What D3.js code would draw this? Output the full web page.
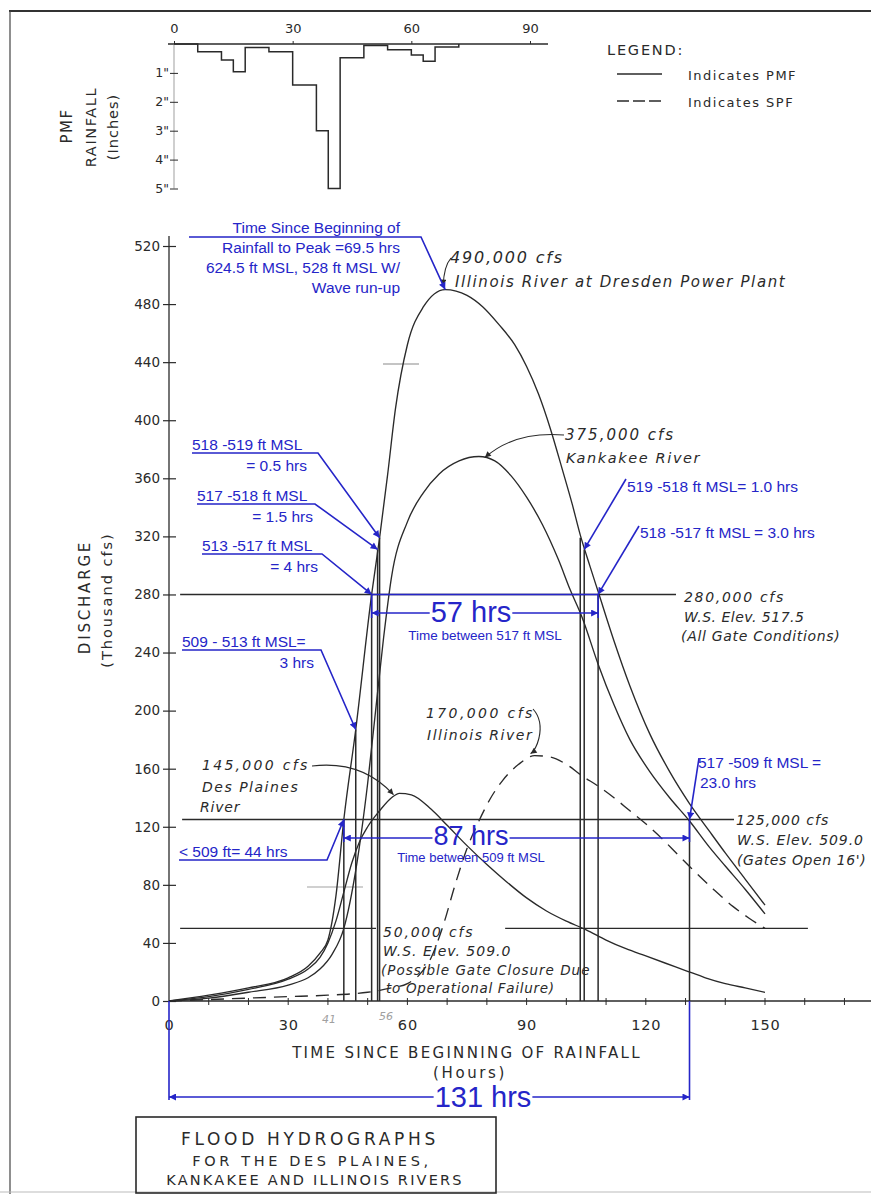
<!DOCTYPE html>
<html lang="en">
<head>
<meta charset="utf-8">
<title>Flood hydrographs for the Des Plaines, Kankakee and Illinois Rivers</title>
<script src="https://cdn.jsdelivr.net/npm/d3@7"></script>
<style>
  body { margin: 0; background: #fff; }
  svg { display: block; }
</style>
</head>
<body>
<script>
// ---- data ----
// PMF rainfall hyetograph (inches per interval, step starts at hour)
var rainHours  = [0, 6, 12, 15, 18, 24, 30, 36, 39, 42, 48, 54, 60, 63, 66, 72];
var rainInches = [0, 0.27, 0.55, 0.96, 0.12, 0.27, 1.42, 3.0, 5.0, 0.48, 0.05, 0.2, 0.38, 0.6, 0.1, 0];

// discharge, thousand cfs
var illinoisPmfT = [0, 10, 20, 30, 35, 38, 40, 42, 44, 47, 51, 53, 55, 57, 60, 64, 69.5, 75, 79, 83, 87, 90, 93, 96, 99, 101.5, 103.5, 106, 108, 112, 116, 121, 126, 131, 136, 140, 145, 150];
var illinoisPmfQ = [0, 4, 9, 16, 24, 33, 42, 72, 125, 187, 280, 319, 362, 408, 452, 478, 490, 486, 478, 466, 452, 437, 418, 394, 366, 342, 321, 299, 282, 248, 217, 184, 158, 136, 117, 102, 84, 66];

var kankakeePmfT = [0, 10, 20, 30, 35, 38, 41, 44, 47, 50, 52, 54, 56, 60, 64, 68, 73, 78, 82, 86, 90, 94, 98, 101, 104, 108, 112, 116, 121, 126, 131, 136, 140, 145, 150];
var kankakeePmfQ = [0, 2, 6, 11, 16, 22, 32, 50, 90, 150, 200, 250, 292, 330, 350, 363, 372, 375, 372, 362, 347, 328, 304, 283, 264, 232, 204, 180, 158, 140, 124, 106, 93, 77, 60];

var desPlainesPmfT = [0, 10, 20, 30, 35, 38, 40, 42, 44, 46, 48, 50, 53, 56, 58, 61, 66, 70, 75, 80, 85, 90, 95, 100, 105, 110, 115, 120, 125, 130, 135, 140, 145, 150];
var desPlainesPmfQ = [0, 3, 8, 15, 22, 30, 40, 55, 75, 95, 110, 120, 131, 140, 143, 142, 132, 121, 107, 94, 82, 71, 62, 55, 49, 42, 36, 31, 26, 21, 16, 12, 9, 6];

var illinoisSpfT = [0, 10, 20, 30, 40, 50, 56, 60, 63, 66, 69, 72, 75, 78, 81, 84, 88, 92, 96, 100, 104, 108, 112, 116, 120, 124, 128, 132, 137, 142, 146, 150];
var illinoisSpfQ = [0, 1, 2, 3, 4, 6, 9, 12, 18, 30, 52, 80, 105, 124, 140, 152, 163, 169, 168, 163, 155, 148, 140, 131, 122, 112, 101, 90, 77, 65, 57, 50];

// marked crossing times (hours) and the discharge where each mark stops
var gateHours = [44, 47, 51, 52.5, 53, 103.5, 104.5, 108, 131];
var gateTopQ  = [125, 187, 280, 311, 319, 319, 311, 280, 125];

// water surface reference levels, thousand cfs
var levelQ = [280, 125, 50];

var dischargeTicks = [0, 40, 80, 120, 160, 200, 240, 280, 320, 360, 400, 440, 480, 520];
var timeTicks = [0, 30, 60, 90, 120, 150];
var rainTimeTicks = [0, 30, 60, 90];
var rainTicks = [1, 2, 3, 4, 5];

// ---- drawing ----
var W = 871, H = 1194;
var ink = "#2a2a2a", blue = "#2525c8";
var narrow = "'Liberation Sans Narrow', 'Arial Narrow', 'Liberation Sans', Arial, sans-serif";
var lettering = "'DejaVu Sans', sans-serif";

var svg = d3.select("body").append("svg").attr("width", W).attr("height", H);

var defs = svg.append("defs");
function marker(id, color, len, wid) {
  defs.append("marker").attr("id", id)
    .attr("viewBox", "0 0 10 10").attr("refX", 10).attr("refY", 5)
    .attr("markerUnits", "userSpaceOnUse")
    .attr("markerWidth", len).attr("markerHeight", wid)
    .attr("orient", "auto-start-reverse")
    .append("path").attr("d", "M0,0L10,5L0,10Z").attr("fill", color);
}
marker("ab", blue, 11, 7);
marker("ak", ink, 8, 6);

function label(s, px, py, o) {
  o = o || {};
  var t = svg.append("text").attr("x", px).attr("y", py).text(s)
    .attr("font-family", o.family || lettering)
    .attr("font-size", o.size || 14)
    .attr("fill", o.color || ink);
  if (o.italic) t.attr("font-style", "italic");
  if (o.ls) t.attr("letter-spacing", o.ls);
  if (o.anchor) t.attr("text-anchor", o.anchor);
  if (o.rotate) t.attr("transform", "rotate(-90," + px + "," + py + ")");
  return t;
}
function bl(s, px, py, o) {
  o = o || {};
  o.family = narrow; o.color = blue; o.size = o.size || 15.5;
  return label(s, px, py, o);
}

// page frame
svg.append("line").attr("x1", 9).attr("x2", W).attr("y1", 11).attr("y2", 11)
  .attr("stroke", "#333").attr("stroke-width", 2);
svg.append("line").attr("x1", 10).attr("x2", 10).attr("y1", 11).attr("y2", H)
  .attr("stroke", "#444").attr("stroke-width", 1.2);
svg.append("line").attr("x1", 0).attr("x2", W).attr("y1", 1192).attr("y2", 1192)
  .attr("stroke", "#bbb").attr("stroke-width", 1);

// ---- rainfall hyetograph ----
var hx = d3.scaleLinear().domain([0, 90]).range([174, 530]);
var hy = d3.scaleLinear().domain([0, 5]).range([44, 188.5]);

svg.append("line").attr("x1", 168).attr("x2", 548).attr("y1", hy(0)).attr("y2", hy(0))
  .attr("stroke", ink).attr("stroke-width", 1.6);
svg.append("line").attr("x1", hx(0)).attr("x2", hx(0)).attr("y1", hy(0)).attr("y2", hy(5))
  .attr("stroke", "#777").attr("stroke-width", 0.7);

var hTop = svg.append("g").attr("transform", "translate(0," + hy(0) + ")")
  .call(d3.axisTop(hx).tickValues(rainTimeTicks).tickSize(3).tickPadding(8).tickSizeOuter(0));
hTop.select(".domain").remove();
hTop.selectAll("text").attr("font-family", lettering).attr("font-size", 13).attr("fill", ink);
hTop.selectAll("line").attr("stroke", ink);

var hLeft = svg.append("g").attr("transform", "translate(" + hx(0) + ",0)")
  .call(d3.axisLeft(hy).tickValues(rainTicks).tickFormat(function (d) { return d + '"'; })
    .tickSize(4).tickPadding(1).tickSizeOuter(0));
hLeft.select(".domain").remove();
hLeft.selectAll(".tick line").attr("x1", -4).attr("x2", 4).attr("stroke", ink);
hLeft.selectAll("text").attr("font-family", lettering).attr("font-size", 12.5).attr("fill", ink);

var rain = rainHours.map(function (h, i) { return [h, rainInches[i]]; });
svg.append("path").datum(rain)
  .attr("d", d3.line().x(function (d) { return hx(d[0]); }).y(function (d) { return hy(d[1]); })
    .curve(d3.curveStepAfter))
  .attr("fill", "none").attr("stroke", ink).attr("stroke-width", 1.5);

label("PMF", 72, 126, { rotate: true, anchor: "middle", size: 15, ls: 1.5 });
label("RAINFALL", 96, 127, { rotate: true, anchor: "middle", size: 14.5, ls: 1.6 });
label("(Inches)", 118, 127, { rotate: true, anchor: "middle", size: 14.5, ls: 1 });

// legend
label("LEGEND:", 607, 55, { size: 14.5, ls: 1.8 });
svg.append("line").attr("x1", 617).attr("x2", 662).attr("y1", 74).attr("y2", 74)
  .attr("stroke", ink).attr("stroke-width", 1.4);
svg.append("line").attr("x1", 617).attr("x2", 662).attr("y1", 101).attr("y2", 101)
  .attr("stroke", ink).attr("stroke-width", 1.4).attr("stroke-dasharray", "12,4");
label("Indicates   PMF", 688, 80, { size: 13, ls: 1.5 });
label("Indicates   SPF", 688, 107, { size: 13, ls: 1.5 });

// ---- hydrograph ----
var x = d3.scaleLinear().domain([0, 150]).range([169, 765]);
var y = d3.scaleLinear().domain([0, 520]).range([1001, 246]);

// y axis
svg.append("line").attr("x1", x(0)).attr("x2", x(0)).attr("y1", 236).attr("y2", y(0))
  .attr("stroke", ink).attr("stroke-width", 1.3);
var yAx = svg.append("g").attr("transform", "translate(" + x(0) + ",0)")
  .call(d3.axisLeft(y).tickValues(dischargeTicks).tickSize(6).tickPadding(3).tickSizeOuter(0));
yAx.select(".domain").remove();
yAx.selectAll(".tick line").attr("x1", -6).attr("x2", 7).attr("stroke", ink).attr("stroke-width", 1.2);
yAx.selectAll("text").attr("font-family", lettering).attr("font-size", 13.5).attr("fill", ink);

// x axis
svg.append("line").attr("x1", x(0)).attr("x2", W).attr("y1", y(0)).attr("y2", y(0))
  .attr("stroke", ink).attr("stroke-width", 1.6);
var minor = d3.range(10, 171, 10);
svg.append("g").selectAll("line").data(minor).join("line")
  .attr("x1", function (d) { return x(d); }).attr("x2", function (d) { return x(d); })
  .attr("y1", y(0) - 3).attr("y2", y(0) + 4).attr("stroke", ink).attr("stroke-width", 1);
var xAx = svg.append("g").attr("transform", "translate(0," + y(0) + ")")
  .call(d3.axisBottom(x).tickValues(timeTicks).tickSize(0).tickPadding(19));
xAx.select(".domain").remove();
xAx.selectAll("text").attr("font-family", lettering).attr("font-size", 14.5).attr("fill", ink)
  .attr("letter-spacing", 0.8);

label("TIME  SINCE  BEGINNING  OF  RAINFALL", 467, 1058, { anchor: "middle", size: 15, ls: 2.3 });
label("(Hours)", 470, 1078, { anchor: "middle", size: 15, ls: 2.6 });
label("DISCHARGE", 90, 597, { rotate: true, anchor: "middle", size: 15, ls: 2.8 });
label("(Thousand cfs)", 112, 600, { rotate: true, anchor: "middle", size: 14.5, ls: 2 });

// pencil marks under the axis
label("41", 322, 1023, { size: 11, color: "#a0a0a0", italic: true });
label("56", 379, 1020, { size: 11, color: "#a0a0a0", italic: true });
svg.append("line").attr("x1", 383).attr("x2", 419).attr("y1", 364).attr("y2", 364)
  .attr("stroke", "#c4c4c4").attr("stroke-width", 2);
svg.append("line").attr("x1", 307).attr("x2", 363).attr("y1", 887).attr("y2", 887)
  .attr("stroke", "#d0d0d0").attr("stroke-width", 2);

// reference levels
var levelSpans = [[[2.8, 127.6]], [[3.3, 142.2]], [[2.8, 52.1], [84.6, 160.8]]];
levelQ.forEach(function (q, i) {
  levelSpans[i].forEach(function (s) {
    svg.append("line").attr("x1", x(s[0])).attr("x2", x(s[1]))
      .attr("y1", y(q)).attr("y2", y(q))
      .attr("stroke", ink).attr("stroke-width", 1.4);
  });
});

// hydrograph curves
var line = d3.line().x(function (d) { return x(d[0]); }).y(function (d) { return y(d[1]); })
  .curve(d3.curveMonotoneX);
function pts(t, q) { return t.map(function (v, i) { return [v, q[i]]; }); }
var series = [
  { t: illinoisPmfT, q: illinoisPmfQ, dash: null },
  { t: kankakeePmfT, q: kankakeePmfQ, dash: null },
  { t: desPlainesPmfT, q: desPlainesPmfQ, dash: null },
  { t: illinoisSpfT, q: illinoisSpfQ, dash: "13,8" }
];
series.forEach(function (s) {
  svg.append("path").datum(pts(s.t, s.q)).attr("d", line)
    .attr("fill", "none").attr("stroke", ink).attr("stroke-width", 1.35)
    .attr("stroke-dasharray", s.dash);
});

// crossing marks
svg.append("g").selectAll("line").data(gateHours).join("line")
  .attr("x1", function (d) { return x(d); }).attr("x2", function (d) { return x(d); })
  .attr("y1", function (d, i) { return y(gateTopQ[i]); }).attr("y2", y(0))
  .attr("stroke", ink).attr("stroke-width", 1.5);

// black notes
label("490,000 cfs", 450, 263, { italic: true, size: 16, ls: 1.8 });
label("Illinois  River  at  Dresden  Power  Plant", 455, 287, { italic: true, size: 15, ls: 1.6 });
svg.append("path").attr("d", "M451,258 Q444,266 " + x(69) + "," + (y(490) - 4))
  .attr("fill", "none").attr("stroke", ink).attr("stroke-width", 1.1).attr("marker-end", "url(#ak)");

label("375,000 cfs", 565, 440, { italic: true, size: 15, ls: 2 });
label("Kankakee  River", 566, 463, { italic: true, size: 14.5, ls: 1.6 });
svg.append("path").attr("d", "M564,435 Q515,431 " + (x(79) + 2) + "," + (y(375) + 1))
  .attr("fill", "none").attr("stroke", ink).attr("stroke-width", 1.1).attr("marker-end", "url(#ak)");

label("280,000 cfs", 684, 602, { italic: true, size: 14, ls: 1.7 });
label("W.S. Elev. 517.5", 684, 622, { italic: true, size: 14, ls: 0.5 });
label("(All Gate Conditions)", 681, 641, { italic: true, size: 14, ls: 0.7 });

label("170,000 cfs", 426, 718, { italic: true, size: 14, ls: 2.4 });
label("Illinois  River", 427, 740, { italic: true, size: 14, ls: 1.5 });
svg.append("path").attr("d", "M533,709 Q543,720 539,738 Q536,750 " + x(91) + "," + (y(169) - 2))
  .attr("fill", "none").attr("stroke", ink).attr("stroke-width", 1.1).attr("marker-end", "url(#ak)");

label("145,000 cfs", 202, 770, { italic: true, size: 14, ls: 2.3 });
label("Des  Plaines", 202, 792, { italic: true, size: 14, ls: 1.5 });
label("River", 200, 812, { italic: true, size: 14, ls: 0.8 });
svg.append("path").attr("d", "M312,766 Q362,760 " + (x(56) + 2) + "," + (y(140) - 3))
  .attr("fill", "none").attr("stroke", ink).attr("stroke-width", 1.1).attr("marker-end", "url(#ak)");

label("125,000 cfs", 736, 825, { italic: true, size: 14, ls: 1 });
label("W.S. Elev. 509.0", 737, 845, { italic: true, size: 14, ls: 0.9 });
label("(Gates Open 16')", 737, 865, { italic: true, size: 14, ls: 0.6 });

label("50,000 cfs", 383, 937, { italic: true, size: 14, ls: 1.8 });
label("W.S. Elev. 509.0", 383, 956, { italic: true, size: 14, ls: 1 });
label("(Possible  Gate  Closure  Due", 381, 975, { italic: true, size: 13.5, ls: 1 });
label("to  Operational  Failure)", 386, 993, { italic: true, size: 13.5, ls: 0.7 });

// ---- blue annotations ----
function leader(d) {
  svg.append("path").attr("d", d).attr("fill", "none").attr("stroke", blue)
    .attr("stroke-width", 1.6).attr("marker-end", "url(#ab)");
}
function pt(t, q) { return x(t) + "," + y(q); }

bl("Time Since Beginning of", 400, 233, { anchor: "end" });
bl("Rainfall to Peak =69.5 hrs", 400, 253, { anchor: "end" });
bl("624.5 ft MSL,  528 ft MSL W/", 400, 273, { anchor: "end" });
bl("Wave run-up", 400, 293, { anchor: "end" });
leader("M189,237H421L" + pt(69.5, 490));

bl("518 -519 ft MSL", 192, 450);
bl("= 0.5 hrs", 307, 471, { anchor: "end" });
leader("M192,453H318L" + pt(53, 319));

bl("517 -518 ft MSL", 197, 501);
bl("= 1.5 hrs", 313, 522, { anchor: "end" });
leader("M197,504H315L" + pt(52.5, 311));

bl("513 -517 ft MSL", 202, 551);
bl("= 4 hrs", 318, 572, { anchor: "end" });
leader("M202,554H322L" + pt(51, 280));

bl("509 - 513 ft MSL=", 182, 647);
bl("3 hrs", 314, 668, { anchor: "end" });
leader("M182,650H321L" + pt(47, 187));

bl("< 509 ft= 44 hrs", 179, 857);
leader("M179,860H327L" + pt(44, 125));

bl("519 -518 ft MSL= 1.0 hrs", 627, 492);
leader("M626,479L" + pt(104.5, 311));

bl("518 -517 ft MSL = 3.0 hrs", 640, 538);
leader("M639,526L" + pt(108, 280));

bl("517 -509 ft MSL =", 698, 768);
bl("23.0 hrs", 700, 788);
leader("M699,758L" + pt(131, 125));

// blue level tie at 280 and the short verticals
svg.append("line").attr("x1", x(51)).attr("x2", x(108)).attr("y1", y(280)).attr("y2", y(280))
  .attr("stroke", blue).attr("stroke-width", 1.6);

function vtick(t, ya, yb) {
  svg.append("line").attr("x1", x(t)).attr("x2", x(t)).attr("y1", ya).attr("y2", yb)
    .attr("stroke", blue).attr("stroke-width", 1.6);
}
function span(t0, t1, yy, s, cx, base, size) {
  var t = bl(s, cx, base, { anchor: "middle", size: size });
  var w = t.node().getComputedTextLength();
  svg.append("line").attr("x1", cx - w / 2 - 1).attr("x2", x(t0)).attr("y1", yy).attr("y2", yy)
    .attr("stroke", blue).attr("stroke-width", 1.6).attr("marker-end", "url(#ab)");
  svg.append("line").attr("x1", cx + w / 2 + 1).attr("x2", x(t1)).attr("y1", yy).attr("y2", yy)
    .attr("stroke", blue).attr("stroke-width", 1.6).attr("marker-end", "url(#ab)");
}

vtick(51, y(280), 618);
vtick(108, y(280), 618);
span(51, 108, 613, "57 hrs", 471, 622, 29);
bl("Time between 517 ft MSL", 485, 640, { anchor: "middle", size: 13.5 });

vtick(44, y(125), 842);
vtick(131, y(125), 842);
span(44, 131, 838, "87 hrs", 471, 845, 27);
bl("Time between 509 ft MSL", 471, 862, { anchor: "middle", size: 13 });

vtick(0, y(0), 1100);
vtick(131, y(0), 1100);
span(0, 131, 1097, "131 hrs", 483, 1107, 29);

// ---- title block ----
svg.append("rect").attr("x", 136).attr("y", 1117).attr("width", 360).attr("height", 76)
  .attr("fill", "none").attr("stroke", ink).attr("stroke-width", 1.6);
label("FLOOD HYDROGRAPHS", 310, 1145, { anchor: "middle", size: 17, ls: 3.7 });
label("FOR THE DES PLAINES,", 312, 1166, { anchor: "middle", size: 14.5, ls: 3.6 });
label("KANKAKEE AND ILLINOIS RIVERS", 315, 1185, { anchor: "middle", size: 14.5, ls: 2.2 });
</script>
</body>
</html>
